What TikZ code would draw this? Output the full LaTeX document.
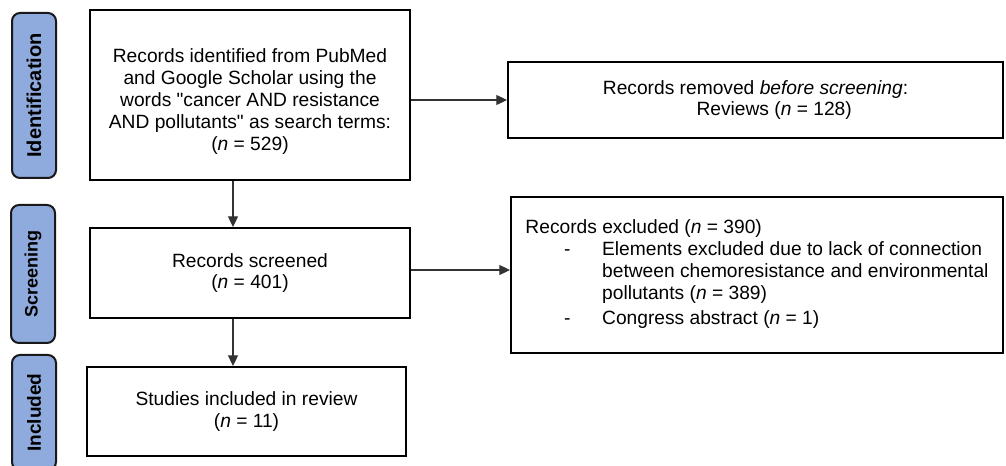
\documentclass[tikz,border=0pt]{standalone}
\usepackage{fontspec}
\setmainfont{Liberation Sans}[Ligatures=TeXOff]
\usetikzlibrary{arrows.meta}
\definecolor{phaseblue}{HTML}{8FAADC}
\definecolor{arrowgray}{HTML}{333333}
\tikzset{
  flowbox/.style={draw=black, line width=1.5pt, inner sep=0pt, align=center,
    font=\fontsize{14.4}{16.4}\selectfont},
  phase/.style={draw=black!90, line width=1.5pt, fill=phaseblue, rounded corners=6pt,
    rotate=90, inner sep=0pt, minimum height=33pt,
    font=\fontsize{13.5}{16}\selectfont\bfseries},
  flow/.style={draw=arrowgray, line width=0.8pt, -{Triangle[length=8pt,width=7.5pt]}}
}
\begin{document}
\begin{tikzpicture}[x=0.75pt,y=-0.75pt]
\useasboundingbox (0,0) rectangle (1006,466);

% phase labels on the left
\node[phase, minimum width=123.75pt, font=\fontsize{15}{16}\selectfont\bfseries] (pid) at (34,95.5) {Identification};
\node[phase, minimum width=103.5pt] (psc) at (33,274) {Screening};
\node[phase, minimum width=86.25pt, font=\fontsize{14.25}{16}\selectfont\bfseries] (pin) at (34,412.5) {Included};

% main flow boxes (a strut on the first line sets the text a little lower)
\node[flowbox, minimum width=240pt, minimum height=127.5pt] (ident) at (250,95)
  {\rule{0pt}{20.5pt}Records identified from PubMed\\ and Google Scholar using the\\ words "cancer AND resistance\\ AND pollutants" as search terms:\\ (\textit{n} = 529)};
\node[flowbox, minimum width=240pt, minimum height=67.5pt] (screen) at (250,273)
  {Records screened\\ (\textit{n} = 401)};
\node[flowbox, minimum width=239.25pt, minimum height=66.75pt] (incl) at (246.5,411.5)
  {Studies included in review\\ (\textit{n} = 11)};

% side boxes
\node[flowbox, minimum width=371.25pt, minimum height=57pt] (removed) at (755.5,100)
  {Records removed \textit{before screening}:\\ \hspace*{28pt}Reviews (\textit{n} = 128)};
\node[flowbox, minimum width=369pt, minimum height=117pt] (excluded) at (757,275)
  {\begin{tabular}{@{}p{29pt}@{}p{28.5pt}@{}l@{}}
   \multicolumn{3}{@{}l@{}}{Records excluded (\textit{n} = 390)}\\
   & - & Elements excluded due to lack of connection\\
   & & between chemoresistance and environmental\\
   & & pollutants (\textit{n} = 389)\\[2.5pt]
   & - & Congress abstract (\textit{n} = 1)
   \end{tabular}};

% connectors
\coordinate (c1) at ([xshift=-12.75pt]ident.south);
\draw[flow] (c1) -- (c1 |- screen.north);
\coordinate (c2) at ([xshift=-12.75pt]screen.south);
\draw[flow] (c2) -- (c2 |- incl.north);
\draw[flow] (removed.west -| ident.east) -- (removed.west);
\coordinate (c3) at ([yshift=2.25pt]screen.east);
\draw[flow] (c3) -- (c3 -| excluded.west);
\end{tikzpicture}
\end{document}
